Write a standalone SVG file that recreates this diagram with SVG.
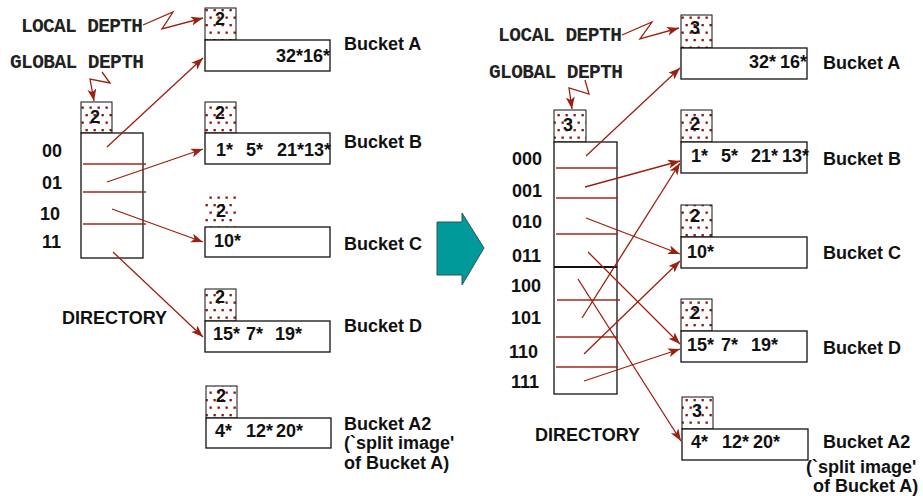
<svg xmlns="http://www.w3.org/2000/svg" width="923" height="496" viewBox="0 0 923 496">
<defs>
<pattern id="dots" width="8" height="15" patternUnits="userSpaceOnUse">
<rect width="8" height="15" fill="#fff"/>
<rect x="1.5" y="1.5" width="2.3" height="2.3" fill="#8a140c"/>
<rect x="5.5" y="9" width="2.3" height="2.3" fill="#8a140c"/>
</pattern>
<marker id="ah" markerUnits="userSpaceOnUse" markerWidth="13" markerHeight="10" refX="12" refY="4.5" orient="auto">
<path d="M0,0 L12,4.5 L0,9 L3,4.5 z" fill="#9c1f0f"/>
</marker>
</defs>
<style>
.mono{font-family:"Liberation Mono","Courier New",monospace;font-weight:bold;font-size:19.5px;fill:#222}
.lbl{font-family:"Liberation Sans",Arial,sans-serif;font-weight:bold;font-size:18px;fill:#111}
.dig{font-family:"Liberation Sans",Arial,sans-serif;font-weight:bold;font-size:18px;fill:#111;text-anchor:middle}
.depth{fill:url(#dots);stroke:#111;stroke-width:1}
.bkt{fill:#fff;stroke:#111;stroke-width:1.3}
.dir{fill:#fff;stroke:#111;stroke-width:1.3}
.div{stroke:#a3281a;stroke-width:1.3}
.arr{stroke:#9c1f0f;stroke-width:1.3;fill:none;marker-end:url(#ah)}
</style>
<rect width="923" height="496" fill="#fff"/>

<!-- LEFT SIDE -->
<g id="left-labels">
<text class="mono" x="21" y="31.5" textLength="122">LOCAL DEPTH</text>
<text class="mono" x="10" y="68" textLength="134">GLOBAL DEPTH</text>
</g>
<g id="left-directory">
<rect class="depth" x="81" y="102" width="31" height="31"/>
<text class="dig" x="95" y="123">2</text>
<rect class="dir" x="81" y="133" width="62" height="125"/>
<line class="div" x1="83" y1="164" x2="146" y2="164"/>
<line class="div" x1="83" y1="192" x2="146" y2="192"/>
<line class="div" x1="83" y1="224" x2="146" y2="224"/>
<text class="lbl" x="42" y="157">00</text>
<text class="lbl" x="42" y="189">01</text>
<text class="lbl" x="40" y="220">10</text>
<text class="lbl" x="42" y="248">11</text>
<text class="lbl" x="62" y="324">DIRECTORY</text>
</g>
<g id="left-bucket-a">
<rect class="depth" x="205" y="8" width="31" height="32"/>
<text class="dig" x="220" y="25">2</text>
<rect class="bkt" x="205" y="40" width="125" height="31"/>
<text class="lbl" x="276" y="62">32*16*</text>
<text class="lbl" x="344" y="50">Bucket A</text>
</g>
<g id="left-bucket-b">
<rect class="depth" x="205" y="102" width="31" height="31"/>
<text class="dig" x="220" y="119">2</text>
<rect class="bkt" x="205" y="133" width="125" height="31"/>
<text class="lbl" y="156"><tspan x="216">1*</tspan><tspan x="246">5*</tspan><tspan x="277">21*13*</tspan></text>
<text class="lbl" x="344" y="148">Bucket B</text>
</g>
<g id="left-bucket-c">
<rect x="205" y="193" width="31" height="34" fill="url(#dots)"/>
<rect class="bkt" x="205" y="227" width="125" height="30"/>
<text class="dig" x="221" y="217">2</text>
<text class="lbl" x="214" y="247">10*</text>
<text class="lbl" x="344" y="250">Bucket C</text>
</g>
<g id="left-bucket-d">
<rect class="depth" x="205" y="289" width="31" height="32"/>
<text class="dig" x="220" y="303">2</text>
<rect class="bkt" x="205" y="321" width="125" height="31"/>
<text class="lbl" y="340"><tspan x="213">15*</tspan><tspan x="246">7*</tspan><tspan x="275">19*</tspan></text>
<text class="lbl" x="344" y="332">Bucket D</text>
</g>
<g id="left-bucket-a2">
<rect class="depth" x="206" y="386" width="31" height="32"/>
<text class="dig" x="221" y="402">2</text>
<rect class="bkt" x="206" y="418" width="125" height="30"/>
<text class="lbl" y="437"><tspan x="215">4*</tspan><tspan x="246">12*</tspan><tspan x="276">20*</tspan></text>
<text class="lbl" x="344" y="430">Bucket A2</text>
<text class="lbl" x="344" y="449">(`split image'</text>
<text class="lbl" x="344" y="469">of Bucket A)</text>
</g>

<!-- Transition arrow -->
<g id="transition-arrow">
<polygon points="437,222 462,222 462,213 484,248 462,285 462,275 437,275" fill="#009a9a" stroke="#2e5555" stroke-width="1"/>
</g>

<!-- RIGHT SIDE -->
<g id="right-labels">
<text class="mono" x="498" y="40.5" textLength="124">LOCAL DEPTH</text>
<text class="mono" x="489" y="78" textLength="134">GLOBAL DEPTH</text>
</g>
<g id="right-directory">
<rect class="depth" x="554" y="110" width="32" height="32"/>
<text class="dig" x="568" y="131">3</text>
<rect class="dir" x="554" y="142" width="63" height="252"/>
<line class="div" x1="556" y1="168" x2="618" y2="168"/>
<line class="div" x1="556" y1="198" x2="618" y2="198"/>
<line class="div" x1="556" y1="234" x2="618" y2="234"/>
<line x1="554" y1="267" x2="617" y2="267" stroke="#111" stroke-width="1.8"/>
<line class="div" x1="557" y1="300" x2="620" y2="300"/>
<line class="div" x1="556" y1="337" x2="618" y2="337"/>
<line class="div" x1="556" y1="367" x2="618" y2="367"/>
<text class="lbl" x="512" y="165">000</text>
<text class="lbl" x="512" y="197">001</text>
<text class="lbl" x="512" y="228">010</text>
<text class="lbl" x="512" y="262">011</text>
<text class="lbl" x="511" y="292">100</text>
<text class="lbl" x="511" y="324">101</text>
<text class="lbl" x="509" y="358">110</text>
<text class="lbl" x="511" y="388">111</text>
<text class="lbl" x="535" y="441">DIRECTORY</text>
</g>
<g id="right-bucket-a">
<rect class="depth" x="681" y="15" width="31" height="33"/>
<text class="dig" x="695" y="34">3</text>
<rect class="bkt" x="681" y="48" width="126" height="31"/>
<text class="lbl" y="68"><tspan x="749">32*</tspan><tspan x="780">16*</tspan></text>
<text class="lbl" x="823" y="69">Bucket A</text>
</g>
<g id="right-bucket-b">
<rect class="depth" x="681" y="110" width="31" height="32"/>
<text class="dig" x="695" y="130">2</text>
<rect class="bkt" x="681" y="142" width="126" height="31"/>
<text class="lbl" y="162"><tspan x="691">1*</tspan><tspan x="721">5*</tspan><tspan x="751">21*</tspan><tspan x="782">13*</tspan></text>
<text class="lbl" x="823" y="165">Bucket B</text>
</g>
<g id="right-bucket-c">
<rect class="depth" x="681" y="205" width="31" height="32"/>
<text class="dig" x="695" y="222">2</text>
<rect class="bkt" x="681" y="237" width="126" height="31"/>
<text class="lbl" x="687" y="258">10*</text>
<text class="lbl" x="823" y="259">Bucket C</text>
</g>
<g id="right-bucket-d">
<rect class="depth" x="681" y="299" width="31" height="32"/>
<text class="dig" x="695" y="319">2</text>
<rect class="bkt" x="681" y="331" width="126" height="31"/>
<text class="lbl" y="351"><tspan x="687">15*</tspan><tspan x="721">7*</tspan><tspan x="751">19*</tspan></text>
<text class="lbl" x="823" y="354">Bucket D</text>
</g>
<g id="right-bucket-a2">
<rect class="depth" x="682" y="397" width="31" height="32"/>
<text class="dig" x="697" y="417">3</text>
<rect class="bkt" x="682" y="429" width="126" height="31"/>
<text class="lbl" y="448"><tspan x="691">4*</tspan><tspan x="722">12*</tspan><tspan x="753">20*</tspan></text>
<text class="lbl" x="823" y="448">Bucket A2</text>
<text class="lbl" x="806" y="473">(`split image'</text>
<text class="lbl" x="813" y="492">of Bucket A)</text>
</g>

<g id="connectors">
<polyline class="arr" points="143,25 173,12 162,29 203,18"/>
<polyline class="arr" points="102,72 110,83 90,79 94,101"/>
<line class="arr" x1="107" y1="147" x2="203" y2="58"/>
<line class="arr" x1="107" y1="182" x2="203" y2="149"/>
<line class="arr" x1="112" y1="209" x2="203" y2="242"/>
<line class="arr" x1="113" y1="252" x2="203" y2="337"/>

<polyline class="arr" points="622,35 652,22 640,39 679,28"/>
<polyline class="arr" points="585,80 589,94 569,88 572,109"/>
<line class="arr" x1="586" y1="156" x2="680" y2="68"/>
<line class="arr" x1="585" y1="187" x2="680" y2="161"/>
<line class="arr" x1="586" y1="218" x2="680" y2="254"/>
<line class="arr" x1="588" y1="252" x2="680" y2="344"/>
<line class="arr" x1="578" y1="279" x2="681" y2="441"/>
<line class="arr" x1="582" y1="318" x2="680" y2="163"/>
<line class="arr" x1="584" y1="354" x2="680" y2="261"/>
<line class="arr" x1="584" y1="381" x2="680" y2="349"/>
</g>
</svg>
